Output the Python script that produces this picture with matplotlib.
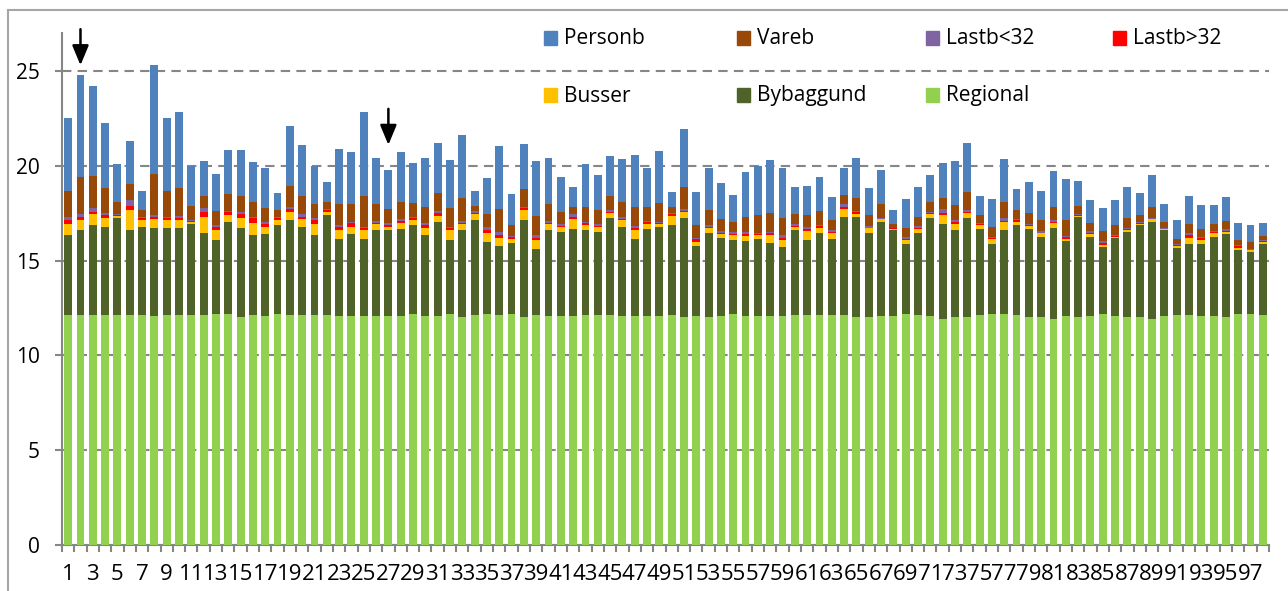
import matplotlib
matplotlib.use("Agg")
import matplotlib.pyplot as plt
from matplotlib.patches import Rectangle
from matplotlib.lines import Line2D
import numpy as np

plt.rcParams['font.family'] = ['Open Sans', 'DejaVu Sans']

categories = [str(i) for i in range(1, 99)]

regional = [12.14,12.14,12.14,12.14,12.14,12.14,12.14,12.07,12.14,12.14,
            12.14,12.14,12.19,12.19,12.00,12.14,12.07,12.19,12.14,12.14,
            12.14,12.14,12.07,12.07,12.07,12.07,12.07,12.07,12.19,12.07,
            12.07,12.19,12.00,12.14,12.19,12.14,12.19,12.00,12.14,12.07,
            12.07,12.07,12.14,12.14,12.14,12.07,12.07,12.07,12.07,12.14,
            12.00,12.07,12.00,12.07,12.19,12.07,12.07,12.07,12.07,12.14,
            12.14,12.14,12.14,12.14,12.00,12.00,12.07,12.07,12.19,12.14,
            12.07,11.93,12.00,12.00,12.14,12.19,12.19,12.14,12.00,12.00,
            11.93,12.07,12.00,12.07,12.19,12.07,12.00,12.00,11.93,12.07,
            12.14,12.14,12.07,12.07,12.00,12.19,12.19,12.14]

bybaggund = [4.21,4.47,4.72,4.65,5.11,4.47,4.65,4.65,4.58,4.58,
             4.79,4.33,3.90,4.86,4.72,4.21,4.33,4.67,4.98,4.65,
             4.21,5.25,4.09,4.33,4.09,4.54,4.54,4.61,4.67,4.28,
             4.98,3.90,4.60,4.98,3.81,3.61,3.76,5.12,3.49,4.53,
             4.46,4.60,4.46,4.39,5.12,4.72,4.09,4.61,4.72,4.72,
             5.26,3.68,4.47,4.14,3.90,3.95,4.07,3.88,3.63,4.47,
             3.95,4.33,4.02,5.18,5.32,4.47,4.98,4.53,3.69,4.33,
             5.18,5.00,4.60,5.25,4.53,3.69,4.41,4.72,4.67,4.26,
             4.81,3.95,5.32,4.19,3.51,4.14,4.53,4.86,5.12,4.53,
             3.54,3.74,3.81,4.19,4.40,3.37,3.28,3.74]

busser = [0.58,0.53,0.60,0.47,0.10,1.04,0.35,0.47,0.42,0.42,
          0.11,0.85,0.52,0.35,0.54,0.65,0.39,0.28,0.46,0.40,
          0.58,0.15,0.45,0.39,0.45,0.32,0.18,0.32,0.28,0.35,
          0.30,0.52,0.31,0.34,0.47,0.46,0.21,0.53,0.46,0.31,
          0.24,0.52,0.28,0.24,0.27,0.35,0.45,0.25,0.14,0.47,
          0.32,0.25,0.27,0.19,0.26,0.26,0.21,0.40,0.39,0.18,
          0.47,0.27,0.31,0.40,0.15,0.23,0.13,0.07,0.21,0.20,
          0.21,0.46,0.33,0.28,0.21,0.26,0.45,0.19,0.17,0.18,
          0.24,0.10,0.03,0.14,0.12,0.05,0.07,0.05,0.13,0.05,
          0.11,0.33,0.21,0.18,0.11,0.12,0.07,0.08]

lastb_gt32 = [0.21,0.18,0.12,0.14,0.05,0.24,0.09,0.13,0.09,0.12,
              0.06,0.26,0.16,0.14,0.18,0.23,0.12,0.09,0.14,0.13,
              0.21,0.11,0.18,0.17,0.09,0.07,0.09,0.10,0.09,0.18,
              0.18,0.09,0.09,0.07,0.14,0.14,0.07,0.10,0.12,0.09,
              0.07,0.13,0.08,0.07,0.05,0.07,0.13,0.09,0.07,0.13,
              0.05,0.12,0.05,0.07,0.05,0.12,0.05,0.09,0.12,0.05,
              0.11,0.07,0.06,0.12,0.09,0.04,0.03,0.03,0.05,0.07,
              0.07,0.14,0.09,0.05,0.05,0.04,0.06,0.07,0.04,0.03,
              0.07,0.11,0.05,0.07,0.09,0.06,0.07,0.07,0.03,0.03,
              0.03,0.14,0.09,0.07,0.05,0.07,0.02,0.06]

lastb_lt32 = [0.14,0.14,0.17,0.13,0.04,0.29,0.05,0.08,0.09,0.11,
              0.04,0.21,0.11,0.07,0.14,0.09,0.11,0.05,0.12,0.12,
              0.12,0.05,0.09,0.09,0.09,0.10,0.08,0.08,0.07,0.08,
              0.10,0.09,0.09,0.08,0.16,0.14,0.07,0.09,0.14,0.09,
              0.07,0.12,0.06,0.07,0.07,0.11,0.07,0.05,0.05,0.07,
              0.09,0.09,0.09,0.11,0.09,0.13,0.07,0.09,0.14,0.09,
              0.12,0.07,0.08,0.14,0.07,0.10,0.05,0.04,0.12,0.07,
              0.05,0.17,0.10,0.10,0.07,0.08,0.15,0.07,0.05,0.09,
              0.11,0.07,0.04,0.09,0.13,0.03,0.03,0.07,0.02,0.04,
              0.04,0.09,0.08,0.05,0.09,0.07,0.04,0.05]

vareb = [1.40,1.93,1.72,1.28,0.67,0.84,0.37,2.14,1.36,1.44,
         0.75,0.63,0.72,0.88,0.84,0.79,0.77,0.37,1.11,0.98,
         0.70,0.41,1.08,0.91,1.63,0.86,0.76,0.93,0.75,0.88,
         0.95,1.00,1.19,0.28,0.67,1.21,0.56,0.91,1.02,0.87,
         0.67,0.40,0.82,0.74,0.77,0.79,1.03,0.77,1.00,0.29,
         1.17,0.65,0.77,0.63,0.53,0.79,0.92,1.00,0.91,0.51,
         0.60,0.72,0.51,0.46,0.67,0.55,0.70,0.19,0.48,0.51,
         0.53,0.60,0.79,0.95,0.40,0.53,0.85,0.46,0.60,0.56,
         0.68,0.82,0.45,0.44,0.50,0.51,0.56,0.34,0.61,0.33,
         0.30,0.49,0.42,0.37,0.42,0.27,0.36,0.21]

personb = [3.85,5.38,4.74,3.45,1.96,2.26,1.03,5.76,3.85,4.03,
           2.09,1.83,1.94,2.33,2.40,2.07,2.07,0.91,3.12,2.67,
           2.02,1.03,2.92,2.74,4.42,2.46,2.05,2.64,2.07,2.55,
           2.63,2.53,3.33,0.79,1.89,3.34,1.63,2.41,2.88,2.43,
           1.82,1.04,2.23,1.88,2.09,2.26,2.74,2.02,2.72,0.81,
           3.04,1.77,2.21,1.88,1.42,2.35,2.61,2.79,2.60,1.44,
           1.56,1.80,1.25,1.42,2.09,1.43,1.83,0.72,1.49,1.56,
           1.42,1.82,2.34,2.58,1.02,1.44,2.26,1.10,1.61,1.56,
           1.88,2.16,1.32,1.18,1.23,1.32,1.62,1.17,1.69,0.91,
           0.96,1.49,1.23,0.98,1.30,0.91,0.90,0.72]

series_names = ['Regional', 'Bybaggund', 'Busser', 'Lastb>32', 'Lastb<32', 'Vareb', 'Personb']
series_data = [regional, bybaggund, busser, lastb_gt32, lastb_lt32, vareb, personb]
series_colors = ['#92D050', '#4F6228', '#FFC000', '#FF0000', '#8064A2', '#984807', '#4F81BD']

# annotation arrows: bar label, arrow tip value, arrow tail value
arrow_bars = ['2', '27']
arrow_tips = [25.3, 21.1]
arrow_tails = [27.2, 23.0]

W, H = 1288, 591
fig = plt.figure(figsize=(W / 100, H / 100), dpi=100)
ax = fig.add_axes([62 / W, 1 - 545 / H, (1269 - 62) / W, (545 - 33) / H])

x = np.arange(len(categories))
bottom = np.zeros(len(categories))
for name, vals, col in zip(series_names, series_data, series_colors):
    v = np.array(vals)
    ax.bar(x, v, width=0.64, bottom=bottom, color=col, label=name,
           edgecolor='none', zorder=3)
    bottom += v

ax.set_xlim(-0.5, len(categories) - 0.5)
ax.set_ylim(0, 27)
ax.set_yticks([0, 5, 10, 15, 20, 25])
ax.yaxis.grid(True, color='#868686', linestyle=(0, (4.5, 3)), linewidth=1.5, zorder=0)
ax.set_axisbelow(True)

# x ticks: boundaries as major ticks (marks), labels at odd categories (minor)
ax.set_xticks(np.arange(-0.5, len(categories), 1.0))
ax.set_xticklabels([])
lab_pos = [i for i in range(len(categories)) if i % 2 == 0]
ax.set_xticks(lab_pos, minor=True)
ax.set_xticklabels([categories[i] for i in lab_pos], minor=True)
ax.tick_params(axis='x', which='major', direction='out', length=5, width=1.5, color='#868686')
ax.tick_params(axis='x', which='minor', length=0, pad=14, labelsize=16)
ax.tick_params(axis='y', direction='out', length=5, width=1.5, color='#868686',
               labelsize=15, pad=11)

for s in ['top', 'right']:
    ax.spines[s].set_visible(False)
for s in ['left', 'bottom']:
    ax.spines[s].set_color('#868686')
    ax.spines[s].set_linewidth(1.5)

# arrows
for b, tip, tail in zip(arrow_bars, arrow_tips, arrow_tails):
    i = categories.index(b)
    ax.annotate('', xy=(i, tip), xytext=(i, tail),
                arrowprops=dict(arrowstyle='-|>,head_length=1.2,head_width=0.5',
                                color='black', lw=1.8, shrinkA=0, shrinkB=0),
                annotation_clip=False, zorder=5)

# manual legend (Excel-style uniform columns)
legend_order = ['Personb', 'Vareb', 'Lastb<32', 'Lastb>32', 'Busser', 'Bybaggund', 'Regional']
col_x = [544, 737, 926, 1113]
row_y = [38, 95]
for k, name in enumerate(legend_order):
    r, c = divmod(k, 4)
    col = series_colors[series_names.index(name)]
    x0, yc = col_x[c], row_y[r]
    fig.patches.append(Rectangle((x0 / W, 1 - (yc + 6.5) / H), 13 / W, 13 / H,
                                 transform=fig.transFigure, color=col, zorder=5))
    fig.text((x0 + 20) / W, 1 - (yc + 1) / H, name, fontsize=15, va='center', ha='left')

# chart border (left and top)
fig.lines.append(Line2D([8 / W, 8 / W], [0, 1 - 10 / H], transform=fig.transFigure,
                        color='#a6a6a6', lw=1.5))
fig.lines.append(Line2D([8 / W, 1], [1 - 10 / H, 1 - 10 / H], transform=fig.transFigure,
                        color='#a6a6a6', lw=1.5))

fig.savefig('out.png', dpi=100)
